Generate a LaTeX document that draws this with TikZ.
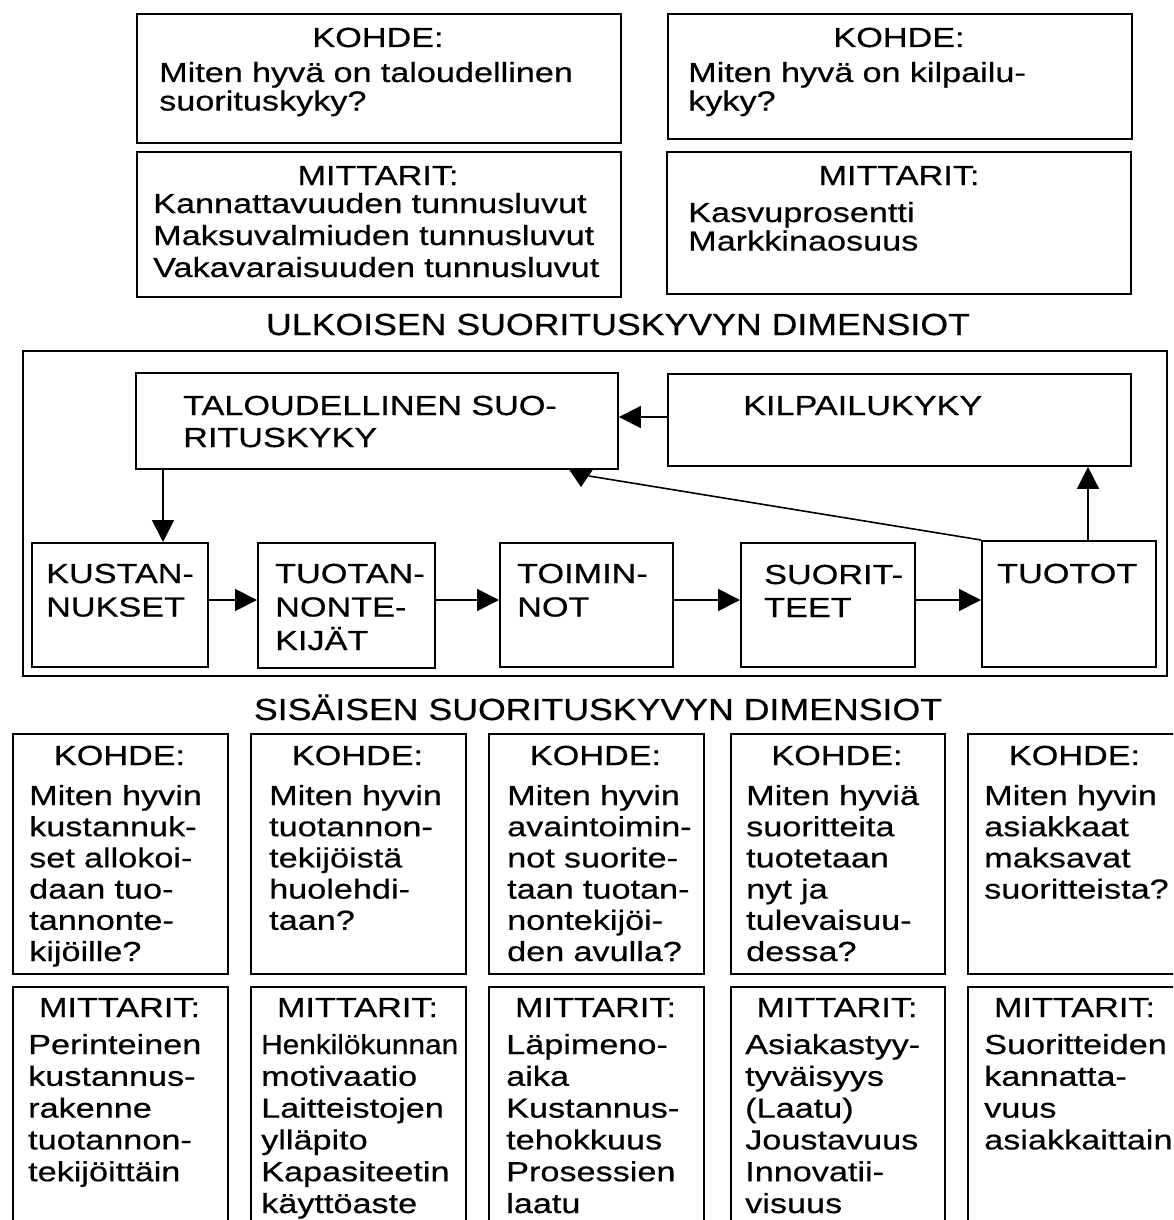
\documentclass[tikz,border=0pt]{standalone}
\usepackage{fontspec}
\setmainfont[FakeStretch=1.24,FakeBold=0.5]{Liberation Sans}
\newfontfamily\titlefont[FakeStretch=1.17,FakeBold=0.5]{Liberation Sans}
\usetikzlibrary{arrows.meta}

\begin{document}
\begin{tikzpicture}[x=1pt,y=-1pt,
  box/.style={draw, line width=1.9pt, inner sep=0pt, anchor=north west},
  head/.style={inner sep=0pt, anchor=base, font=\fontsize{27.6}{31}\selectfont},
  txt/.style={inner sep=0pt, anchor=base west, align=left, text width=500pt,
    font=\fontsize{27.6}{#1}\selectfont},
  txt/.default=31.3pt,
  title/.style={inner sep=0pt, anchor=base, font=\titlefont\fontsize{30.5}{34}\selectfont},
  arr/.style={line width=1.8pt, -{Triangle[length=22pt,width=22pt]}},
  link/.style={line width=1.6pt}
]
\path[use as bounding box, clip] (0,0) rectangle (1173,1220);

% ---------- external dimensions: targets and measures ----------
\node[box, minimum width=484, minimum height=129] (k1) at (136,13) {};
\node[box, minimum width=484, minimum height=145] (m1) at (136,151) {};
\node[box, minimum width=464, minimum height=125] (k2) at (667,13) {};
\node[box, minimum width=464, minimum height=142] (m2) at (666,151) {};

\node[head] (k1h) at (378,47) {KOHDE:};
\node[txt=28.5pt] (k1t) at (159,82) {Miten hyvä on taloudellinen\\suorituskyky?};
\node[head] (m1h) at (378,185) {MITTARIT:};
\node[txt=32pt] (m1t) at (153,213) {Kannattavuuden tunnusluvut\\Maksuvalmiuden tunnusluvut\\Vakavaraisuuden tunnusluvut};

\node[head] (k2h) at (899,47) {KOHDE:};
\node[txt=28.5pt] (k2t) at (688,82) {Miten hyvä on kilpailu-\\kyky?};
\node[head] (m2h) at (899,185) {MITTARIT:};
\node[txt=28.5pt] (m2t) at (688,222) {Kasvuprosentti\\Markkinaosuus};

\node[title] (ulk) at (618,335) {ULKOISEN SUORITUSKYVYN DIMENSIOT};

% ---------- performance chain ----------
\node[box, minimum width=1144, minimum height=325] (frame) at (22,350) {};

\node[box, minimum width=482, minimum height=96] (tal) at (135,372) {};
\node[box, minimum width=463, minimum height=92] (kil) at (667,373) {};
\node[box, minimum width=176, minimum height=124] (kus) at (31,542) {};
\node[box, minimum width=177, minimum height=125] (tpt) at (257,542) {};
\node[box, minimum width=173, minimum height=124] (toi) at (499,542) {};
\node[box, minimum width=174, minimum height=124] (suo) at (740,542) {};
\node[box, minimum width=174, minimum height=126] (tuo) at (981,540) {};

\node[txt=32pt] (talt) at (183,415) {TALOUDELLINEN SUO-\\RITUSKYKY};
\node[txt] (kilt) at (743,415) {KILPAILUKYKY};
\node[txt=33.5pt] (kust) at (46,583) {KUSTAN-\\NUKSET};
\node[txt=33.5pt] (tptt) at (275,583) {TUOTAN-\\NONTE-\\KIJÄT};
\node[txt=33.5pt] (toit) at (517,583) {TOIMIN-\\NOT};
\node[txt=33pt] (suot) at (764,584) {SUORIT-\\TEET};
\node[txt] (tuot) at (997,583) {TUOTOT};

\coordinate (row) at (0,600);
\coordinate (kilrow) at (0,417);
\coordinate (talx) at (163,0);
\coordinate (tuox) at (1088,0);
\coordinate (dend) at (589,476);

\draw[arr] (kus.east |- row) -- (tpt.west |- row);
\draw[arr] (tpt.east |- row) -- (toi.west |- row);
\draw[arr] (toi.east |- row) -- (suo.west |- row);
\draw[arr] (suo.east |- row) -- (tuo.west |- row);
\draw[arr] (kil.west |- kilrow) -- (tal.east |- kilrow);
\draw[arr] (tal.south -| talx) -- (kus.north -| talx);
\draw[arr] (tuo.north -| tuox) -- (kil.south -| tuox);
\draw[link] (tuo.north west) -- (dend);
\fill (568,468) -- (594,468) -- (581,487) -- cycle;

\node[title] (sis) at (598,720) {SISÄISEN SUORITUSKYVYN DIMENSIOT};

% ---------- internal dimensions: targets and measures ----------
\node[box, minimum width=215, minimum height=240] (ka) at (12,733) {};
\node[box, minimum width=215, minimum height=240] (kb) at (250,733) {};
\node[box, minimum width=215, minimum height=240] (kc) at (488,733) {};
\node[box, minimum width=214, minimum height=240] (kd) at (730,733) {};
\node[box, minimum width=215, minimum height=240] (ke) at (967,733) {};

\node[box, minimum width=215, minimum height=260] (ma) at (12,986) {};
\node[box, minimum width=215, minimum height=260] (mb) at (250,986) {};
\node[box, minimum width=215, minimum height=260] (mc) at (488,986) {};
\node[box, minimum width=214, minimum height=260] (md) at (730,986) {};
\node[box, minimum width=215, minimum height=260] (me) at (967,986) {};

\node[head] (kah) at (119.5,765) {KOHDE:};
\node[head] (kbh) at (357.5,765) {KOHDE:};
\node[head] (kch) at (595.5,765) {KOHDE:};
\node[head] (kdh) at (837,765) {KOHDE:};
\node[head] (keh) at (1074.5,765) {KOHDE:};

\node[txt=31.2pt] (kat) at (29,805) {Miten hyvin\\kustannuk-\\set allokoi-\\daan tuo-\\tannonte-\\kijöille?};
\node[txt=31.2pt] (kbt) at (269,805) {Miten hyvin\\tuotannon-\\tekijöistä\\huolehdi-\\taan?};
\node[txt=31.2pt] (kct) at (507,805) {Miten hyvin\\avaintoimin-\\not suorite-\\taan tuotan-\\nontekijöi-\\den avulla?};
\node[txt=31.2pt] (kdt) at (746,805) {Miten hyviä\\suoritteita\\tuotetaan\\nyt ja\\tulevaisuu-\\dessa?};
\node[txt=31.2pt] (ket) at (984,805) {Miten hyvin\\asiakkaat\\maksavat\\suoritteista?};

\node[head] (mah) at (119.5,1017) {MITTARIT:};
\node[head] (mbh) at (357.5,1017) {MITTARIT:};
\node[head] (mch) at (595.5,1017) {MITTARIT:};
\node[head] (mdh) at (837,1017) {MITTARIT:};
\node[head] (meh) at (1074.5,1017) {MITTARIT:};

\node[txt=31.8pt] (mat) at (28,1054) {Perinteinen\\kustannus-\\rakenne\\tuotannon-\\tekijöittäin};
\node[txt=31.8pt] (mbt) at (261,1054) {\scalebox{0.87}[1]{Henkilökunnan}\\motivaatio\\Laitteistojen\\ylläpito\\Kapasiteetin\\käyttöaste};
\node[txt=31.8pt] (mct) at (506,1054) {Läpimeno-\\aika\\Kustannus-\\tehokkuus\\Prosessien\\laatu};
\node[txt=31.8pt] (mdt) at (745,1054) {Asiakastyy-\\tyväisyys\\(Laatu)\\Joustavuus\\Innovatii-\\visuus};
\node[txt=31.8pt] (met) at (984,1054) {Suoritteiden\\kannatta-\\vuus\\asiakkaittain};
\end{tikzpicture}
\end{document}
